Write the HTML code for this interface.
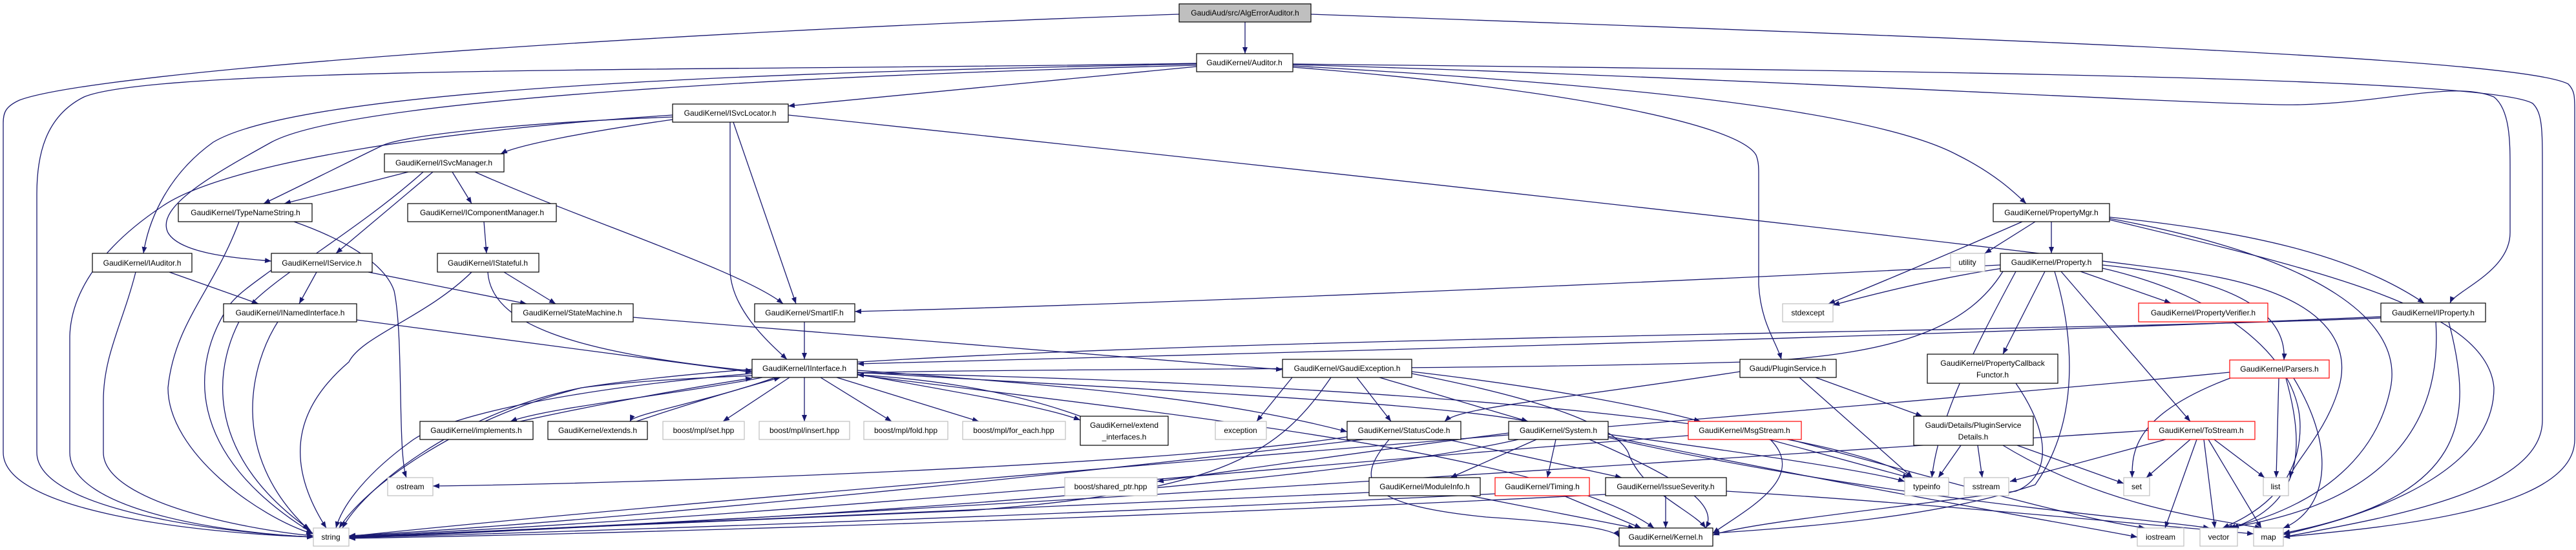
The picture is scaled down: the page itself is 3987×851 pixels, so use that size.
<!DOCTYPE html>
<html><head><meta charset="utf-8"><style>
html,body{margin:0;padding:0;background:#fff;}
svg{display:block;}
text{font-family:"Liberation Sans",Arial,sans-serif;font-size:12px;fill:#000;}
.e{fill:none;stroke:#191970;stroke-width:1.3;marker-end:url(#ah);}
.n{fill:#fff;stroke:#000;stroke-width:1.2;}
.g{fill:#fff;stroke:#bfbfbf;stroke-width:1.2;}
.r{fill:#fff;stroke:#ff0000;stroke-width:1.2;}
</style></head><body>
<svg width="3987" height="851" viewBox="0 0 3987 851" xmlns="http://www.w3.org/2000/svg">
<defs><marker id="ah" markerUnits="userSpaceOnUse" markerWidth="11" markerHeight="8" refX="10" refY="4" orient="auto"><path d="M0,0 L10,4 L0,8 z" fill="#191970"/></marker></defs>
<g>
<path class="e" d="M1927,34 L1927,83"/>
<path class="e" d="M1825,22 C1000,50 150,110 30,155 C8,165 5,175 5,190 L5,700 C5,790 300,825 485,831"/>
<path class="e" d="M2029,22 C3100,60 3900,90 3975,130 C3985,140 3985,150 3985,170 L3985,680 C3985,790 3700,815 3534,831"/>
<path class="e" d="M1852,103 L1220,164"/>
<path class="e" d="M1852,99 C1300,110 480,130 330,220 C260,270 230,340 222,392"/>
<path class="e" d="M1852,98 C1200,110 250,100 130,150 C70,180 57,240 57,300 L57,700 C57,790 350,825 485,831"/>
<path class="e" d="M2001,102 C2500,130 2900,170 3030,240 C3090,270 3120,300 3136,315"/>
<path class="e" d="M2001,104 C2400,135 2690,190 2718,240 C2722,250 2722,260 2722,270 L2722,440 C2725,500 2750,530 2757,556"/>
<path class="e" d="M2001,100 C2700,120 3450,165 3560,162 C3700,158 3800,125 3860,150 C3885,170 3885,220 3885,260 L3885,360 C3885,420 3800,450 3792,469"/>
<path class="e" d="M2001,99 C3000,110 3850,120 3920,160 C3935,175 3935,200 3935,260 L3935,650 C3935,760 3700,800 3534,831"/>
<path class="e" d="M1041,185 C900,205 800,225 775,238"/>
<path class="e" d="M1041,181 C800,190 620,210 590,226 C520,260 440,300 408,315"/>
<path class="e" d="M1041,178 C700,200 350,250 250,320 C160,380 110,450 108,520 L108,700 C108,790 350,825 485,831"/>
<path class="e" d="M1852,101 C1300,115 550,150 420,220 C330,270 240,320 260,360 C280,395 380,400 420,404"/>
<path class="e" d="M1130,189 L1130,420 C1133,480 1190,530 1218,556"/>
<path class="e" d="M1135,189 L1232,470"/>
<path class="e" d="M1220,178 C2000,260 3000,370 3380,420 C3600,450 3640,530 3620,600 C3600,670 3550,715 3544,739"/>
<path class="e" d="M632,266 L440,315"/>
<path class="e" d="M700,266 L730,315"/>
<path class="e" d="M670,266 L520,392"/>
<path class="e" d="M655,266 C550,360 420,430 380,480 C330,560 310,700 480,820"/>
<path class="e" d="M735,266 C900,340 1150,420 1212,470"/>
<path class="e" d="M455,343 C560,380 600,420 610,450 C625,520 615,700 629,739"/>
<path class="e" d="M370,343 C330,450 270,500 260,600 C260,700 400,800 484,826"/>
<path class="e" d="M749,343 L753,392"/>
<path class="e" d="M210,421 C190,500 160,550 160,620 L160,700 C160,780 400,822 485,829"/>
<path class="e" d="M262,421 L400,470"/>
<path class="e" d="M490,421 L463,470"/>
<path class="e" d="M420,418 C390,440 360,460 350,480 C300,560 280,700 484,825"/>
<path class="e" d="M570,421 L815,470"/>
<path class="e" d="M780,421 L860,470"/>
<path class="e" d="M755,421 C760,500 880,545 1164,574"/>
<path class="e" d="M730,421 C660,490 560,520 540,560 C470,620 430,700 505,817"/>
<path class="e" d="M552,495 L1164,576"/>
<path class="e" d="M430,498 C390,560 350,700 478,820"/>
<path class="e" d="M980,491 L1985,572"/>
<path class="e" d="M1245,498 L1245,556"/>
<path class="e" d="M1222,584 L1119,652"/>
<path class="e" d="M1245,584 L1245,652"/>
<path class="e" d="M1270,584 L1380,652"/>
<path class="e" d="M1295,584 L1515,652"/>
<path class="e" d="M1327,579 C1500,610 1620,630 1672,650"/>
<path class="e" d="M1672,644 C1550,600 1420,585 1327,580"/>
<path class="e" d="M1180,584 C1050,610 850,630 790,652"/>
<path class="e" d="M805,652 C950,620 1100,595 1164,585"/>
<path class="e" d="M1200,584 C1100,620 980,640 975,652"/>
<path class="e" d="M985,652 C1080,620 1150,600 1208,584"/>
<path class="e" d="M2085,676 C1800,720 1000,748 670,752"/>
<path class="e" d="M1164,578 C900,600 700,640 640,680 C570,730 530,780 520,817"/>
<path class="e" d="M1327,573 C1700,600 1900,620 2085,668"/>
<path class="e" d="M1327,576 C1700,600 2200,620 2365,652"/>
<path class="e" d="M1327,577 C2000,590 2800,640 2960,739"/>
<path class="e" d="M1327,580 C1800,640 2400,700 2560,817"/>
<path class="e" d="M2000,584 L1945,652"/>
<path class="e" d="M2100,584 L2153,652"/>
<path class="e" d="M2135,584 L2365,652"/>
<path class="e" d="M2185,575 C2400,600 2550,630 2632,652"/>
<path class="e" d="M2185,578 C2400,620 2500,660 2520,700 C2540,760 2620,790 2640,817"/>
<path class="e" d="M2060,584 C1980,700 1900,760 1500,790 C1000,810 700,825 540,831"/>
<path class="e" d="M2335,670 C2100,700 1900,730 1791,745"/>
<path class="e" d="M2785,584 L2960,739"/>
<path class="e" d="M2810,584 L2975,644"/>
<path class="e" d="M2693,575 C2400,620 2260,630 2236,652"/>
<path class="e" d="M2240,680 L2510,739"/>
<path class="e" d="M2150,680 C2100,740 2100,780 2300,800 C2450,810 2500,820 2506,831"/>
<path class="e" d="M2110,680 C1600,740 900,810 540,829"/>
<path class="e" d="M2378,680 L2245,739"/>
<path class="e" d="M2408,680 L2395,739"/>
<path class="e" d="M2460,680 C2600,740 2660,780 2640,817"/>
<path class="e" d="M2489,672 C2700,700 2900,730 2948,745"/>
<path class="e" d="M2350,680 C2000,760 1000,815 540,832"/>
<path class="e" d="M2489,675 C2900,760 3200,810 3308,831"/>
<path class="e" d="M2489,677 C2900,770 3300,800 3420,817"/>
<path class="e" d="M2738,680 L2955,739"/>
<path class="e" d="M2613,674 C2000,720 1200,800 540,830"/>
<path class="e" d="M2740,680 C2800,740 2700,790 2651,825"/>
<path class="e" d="M2770,680 C3000,740 3200,800 3320,817"/>
<path class="e" d="M2275,767 L2530,817"/>
<path class="e" d="M2119,762 C1500,790 900,820 540,831"/>
<path class="e" d="M2420,767 L2540,817"/>
<path class="e" d="M2314,764 C1800,790 1000,820 540,832"/>
<path class="e" d="M2578,767 L2578,817"/>
<path class="e" d="M2672,760 C3000,780 3300,810 3488,826"/>
<path class="e" d="M2485,765 C1800,800 1000,825 540,833"/>
<path class="e" d="M3035,689 L3000,739"/>
<path class="e" d="M3061,689 L3068,739"/>
<path class="e" d="M3122,689 L3287,748"/>
<path class="e" d="M3100,689 C3250,780 3400,800 3500,817"/>
<path class="e" d="M3120,593 C3180,680 3170,740 3120,760 C2900,790 2700,810 2651,828"/>
<path class="e" d="M3150,343 L3072,392"/>
<path class="e" d="M3175,343 L3175,392"/>
<path class="e" d="M3130,343 C3000,400 2880,450 2830,470"/>
<path class="e" d="M3265,336 C3500,360 3650,400 3752,469"/>
<path class="e" d="M3265,338 C3600,400 3720,500 3700,600 C3680,700 3600,780 3450,817"/>
<path class="e" d="M3265,340 C3600,420 3850,480 3860,600 C3860,720 3700,790 3534,827"/>
<path class="e" d="M3096,410 C2500,440 1800,470 1323,482"/>
<path class="e" d="M3100,415 C3000,430 2900,455 2837,472"/>
<path class="e" d="M3100,420 C3050,500 2950,550 2700,560 C2000,580 1200,560 900,600 C700,640 560,760 530,817"/>
<path class="e" d="M3120,420 C3050,550 3000,650 2990,739"/>
<path class="e" d="M3165,420 L3100,548"/>
<path class="e" d="M3220,420 L3360,469"/>
<path class="e" d="M3254,410 C3450,430 3540,480 3535,557"/>
<path class="e" d="M3190,420 L3390,652"/>
<path class="e" d="M3180,420 C3210,520 3220,650 3150,750 C3000,800 2800,815 2651,825"/>
<path class="e" d="M3254,415 C3450,460 3560,560 3560,660 C3560,760 3480,800 3440,817"/>
<path class="e" d="M3685,490 C3000,520 2000,545 1327,563"/>
<path class="e" d="M3770,498 C3780,650 3700,780 3445,817"/>
<path class="e" d="M3790,498 C3830,650 3820,770 3534,825"/>
<path class="e" d="M3685,492 C3000,520 1400,520 900,600 C700,650 560,760 525,817"/>
<path class="e" d="M3460,582 C3300,640 3300,700 3300,739"/>
<path class="e" d="M3527,585 L3523,739"/>
<path class="e" d="M3538,585 C3570,700 3560,780 3455,817"/>
<path class="e" d="M3550,585 C3620,700 3600,790 3534,817"/>
<path class="e" d="M3451,576 C2800,640 1200,760 540,830"/>
<path class="e" d="M3390,680 L3322,739"/>
<path class="e" d="M3427,680 L3505,739"/>
<path class="e" d="M3400,680 L3351,817"/>
<path class="e" d="M3411,680 L3428,817"/>
<path class="e" d="M3418,680 L3500,817"/>
<path class="e" d="M3352,680 L3111,745"/>
<path class="e" d="M3325,666 C2800,700 1500,790 540,832"/>
</g>
<g text-anchor="middle">
<rect x="1825" y="6" width="204" height="28" fill="#bfbfbf" stroke="#000" stroke-width="1.2"/><text x="1927" y="24">GaudiAud/src/AlgErrorAuditor.h</text>
<rect class="n" x="1852" y="83" width="149" height="28"/><text x="1926" y="101">GaudiKernel/Auditor.h</text>
<rect class="n" x="1041" y="161" width="179" height="28"/><text x="1130" y="179">GaudiKernel/ISvcLocator.h</text>
<rect class="n" x="595" y="238" width="185" height="28"/><text x="687" y="256">GaudiKernel/ISvcManager.h</text>
<rect class="n" x="276" y="315" width="207" height="28"/><text x="380" y="333">GaudiKernel/TypeNameString.h</text>
<rect class="n" x="631" y="315" width="230" height="28"/><text x="746" y="333">GaudiKernel/IComponentManager.h</text>
<rect class="n" x="143" y="392" width="154" height="29"/><text x="220" y="411">GaudiKernel/IAuditor.h</text>
<rect class="n" x="420" y="392" width="156" height="29"/><text x="498" y="411">GaudiKernel/IService.h</text>
<rect class="n" x="677" y="392" width="157" height="29"/><text x="755" y="411">GaudiKernel/IStateful.h</text>
<rect class="n" x="346" y="470" width="206" height="28"/><text x="449" y="488">GaudiKernel/INamedInterface.h</text>
<rect class="n" x="792" y="470" width="188" height="28"/><text x="886" y="488">GaudiKernel/StateMachine.h</text>
<rect class="n" x="1168" y="470" width="155" height="28"/><text x="1245" y="488">GaudiKernel/SmartIF.h</text>
<rect class="n" x="1164" y="556" width="163" height="28"/><text x="1245" y="574">GaudiKernel/IInterface.h</text>
<rect class="n" x="650" y="652" width="175" height="28"/><text x="737" y="670">GaudiKernel/implements.h</text>
<rect class="n" x="848" y="652" width="154" height="28"/><text x="925" y="670">GaudiKernel/extends.h</text>
<rect class="g" x="1026" y="652" width="126" height="28"/><text x="1089" y="670">boost/mpl/set.hpp</text>
<rect class="g" x="1175" y="652" width="140" height="28"/><text x="1245" y="670">boost/mpl/insert.hpp</text>
<rect class="g" x="1337" y="652" width="130" height="28"/><text x="1402" y="670">boost/mpl/fold.hpp</text>
<rect class="g" x="1490" y="652" width="159" height="28"/><text x="1569" y="670">boost/mpl/for_each.hpp</text>
<rect class="n" x="1672" y="644" width="136" height="45"/><text x="1740" y="662">GaudiKernel/extend</text><text x="1740" y="680">_interfaces.h</text>
<rect class="g" x="1881" y="652" width="79" height="28"/><text x="1920" y="670">exception</text>
<rect class="n" x="1985" y="556" width="200" height="28"/><text x="2085" y="574">GaudiKernel/GaudiException.h</text>
<rect class="n" x="2693" y="556" width="149" height="28"/><text x="2767" y="574">Gaudi/PluginService.h</text>
<rect class="g" x="2759" y="470" width="78" height="28"/><text x="2798" y="488">stdexcept</text>
<rect class="n" x="2085" y="652" width="176" height="28"/><text x="2173" y="670">GaudiKernel/StatusCode.h</text>
<rect class="n" x="2335" y="652" width="154" height="28"/><text x="2412" y="670">GaudiKernel/System.h</text>
<rect class="r" x="2613" y="652" width="175" height="28"/><text x="2700" y="670">GaudiKernel/MsgStream.h</text>
<rect class="n" x="2119" y="739" width="172" height="28"/><text x="2205" y="757">GaudiKernel/ModuleInfo.h</text>
<rect class="r" x="2314" y="739" width="146" height="28"/><text x="2387" y="757">GaudiKernel/Timing.h</text>
<rect class="n" x="2485" y="739" width="187" height="28"/><text x="2578" y="757">GaudiKernel/IssueSeverity.h</text>
<rect class="n" x="2506" y="817" width="145" height="28"/><text x="2578" y="835">GaudiKernel/Kernel.h</text>
<rect class="g" x="1648" y="739" width="143" height="28"/><text x="1719" y="757">boost/shared_ptr.hpp</text>
<rect class="g" x="600" y="739" width="70" height="28"/><text x="635" y="757">ostream</text>
<rect class="g" x="485" y="817" width="55" height="28"/><text x="512" y="835">string</text>
<rect class="g" x="2948" y="739" width="68" height="28"/><text x="2982" y="757">typeinfo</text>
<rect class="n" x="2962" y="644" width="185" height="45"/><text x="3054" y="662">Gaudi/Details/PluginService</text><text x="3054" y="680">Details.h</text>
<rect class="n" x="2983" y="548" width="202" height="45"/><text x="3084" y="566">GaudiKernel/PropertyCallback</text><text x="3084" y="584">Functor.h</text>
<rect class="n" x="3085" y="315" width="180" height="28"/><text x="3175" y="333">GaudiKernel/PropertyMgr.h</text>
<rect class="g" x="3019" y="392" width="53" height="28"/><text x="3045" y="410">utility</text>
<rect class="n" x="3096" y="392" width="158" height="28"/><text x="3175" y="410">GaudiKernel/Property.h</text>
<rect class="r" x="3310" y="469" width="200" height="29"/><text x="3410" y="488">GaudiKernel/PropertyVerifier.h</text>
<rect class="n" x="3685" y="469" width="162" height="29"/><text x="3766" y="488">GaudiKernel/IProperty.h</text>
<rect class="r" x="3451" y="557" width="154" height="28"/><text x="3528" y="575">GaudiKernel/Parsers.h</text>
<rect class="r" x="3325" y="652" width="165" height="28"/><text x="3407" y="670">GaudiKernel/ToStream.h</text>
<rect class="g" x="3040" y="739" width="69" height="28"/><text x="3074" y="757">sstream</text>
<rect class="g" x="3287" y="739" width="40" height="28"/><text x="3307" y="757">set</text>
<rect class="g" x="3503" y="739" width="39" height="28"/><text x="3522" y="757">list</text>
<rect class="g" x="3308" y="817" width="72" height="28"/><text x="3344" y="835">iostream</text>
<rect class="g" x="3405" y="817" width="58" height="28"/><text x="3434" y="835">vector</text>
<rect class="g" x="3488" y="817" width="46" height="28"/><text x="3511" y="835">map</text>
</g>
</svg>
</body></html>
